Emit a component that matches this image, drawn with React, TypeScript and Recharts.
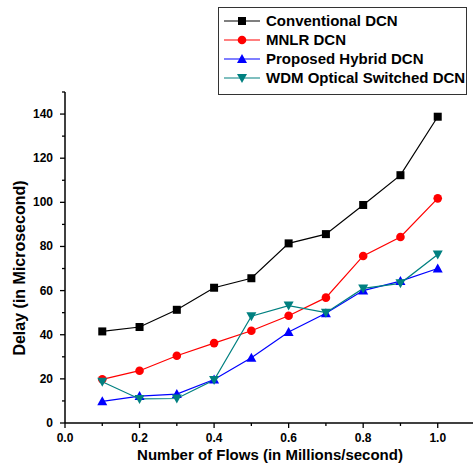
import { CartesianGrid, Legend, Line, LineChart, XAxis, YAxis } from 'recharts';

const flows = [0.1, 0.2, 0.3, 0.4, 0.5, 0.6, 0.7, 0.8, 0.9, 1.0];
const conventional = [41.5, 43.5, 51.3, 61.3, 65.6, 81.4, 85.6, 98.8, 112.3, 138.8];
const mnlr = [19.8, 23.7, 30.5, 36.2, 41.8, 48.6, 56.8, 75.7, 84.3, 101.8];
const hybrid = [9.8, 12.2, 13.1, 19.7, 29.6, 41.2, 49.7, 60.0, 64.3, 70.0];
const wdm = [18.7, 10.9, 11.1, 19.5, 48.4, 53.2, 50.0, 61.0, 63.3, 76.4];

const xTicks = [0, 0.1, 0.2, 0.3, 0.4, 0.5, 0.6, 0.7, 0.8, 0.9, 1.0];
const yTicks = [0, 10, 20, 30, 40, 50, 60, 70, 80, 90, 100, 110, 120, 130, 140, 150];

const FONT = '"Liberation Sans", Arial, sans-serif';

type Shape = 'square' | 'circle' | 'up' | 'down';

const series: { key: string; name: string; color: string; shape: Shape; values: number[] }[] = [
  { key: 'conv', name: 'Conventional DCN', color: '#000000', shape: 'square', values: conventional },
  { key: 'mnlr', name: 'MNLR DCN', color: '#ff0000', shape: 'circle', values: mnlr },
  { key: 'hyb', name: 'Proposed Hybrid DCN', color: '#0000ff', shape: 'up', values: hybrid },
  { key: 'wdm', name: 'WDM Optical Switched DCN', color: '#008080', shape: 'down', values: wdm },
];

const data = flows.map((x, i) => {
  const row: Record<string, number> = { x };
  series.forEach((s) => {
    row[s.key] = s.values[i];
  });
  return row;
});

function Marker({ cx, cy, shape, color }: { cx: number; cy: number; shape: Shape; color: string }) {
  if (shape === 'square') return <rect x={cx - 4} y={cy - 4} width={8} height={8} fill={color} />;
  if (shape === 'circle') return <circle cx={cx} cy={cy} r={4.3} fill={color} />;
  if (shape === 'up')
    return <polygon points={`${cx},${cy - 5} ${cx + 5},${cy + 4} ${cx - 5},${cy + 4}`} fill={color} />;
  return <polygon points={`${cx},${cy + 5} ${cx + 5},${cy - 4} ${cx - 5},${cy - 4}`} fill={color} />;
}

function makeDot(shape: Shape, color: string) {
  return (props: any) => {
    const { cx, cy, index } = props;
    if (cx == null || cy == null) return <g key={index} />;
    return (
      <g key={index}>
        <Marker cx={cx} cy={cy} shape={shape} color={color} />
      </g>
    );
  };
}

function XTick(props: any) {
  const { x, y, payload } = props;
  const v = Math.round(payload.value * 10);
  const major = v % 2 === 0;
  return (
    <g>
      <line x1={x} y1={y} x2={x} y2={y + (major ? 5 : 3)} stroke="#000" strokeWidth={1.3} />
      {major && (
        <text x={x} y={y + 19} textAnchor="middle" fontFamily={FONT} fontWeight="bold" fontSize={12} fill="#000">
          {(v / 10).toFixed(1)}
        </text>
      )}
    </g>
  );
}

function YTick(props: any) {
  const { x, y, payload } = props;
  const major = payload.value % 20 === 0;
  return (
    <g>
      <line x1={x} y1={y} x2={x - (major ? 5 : 3)} y2={y} stroke="#000" strokeWidth={1.3} />
      {major && (
        <text x={x - 12} y={y + 4} textAnchor="end" fontFamily={FONT} fontWeight="bold" fontSize={12} fill="#000">
          {payload.value}
        </text>
      )}
    </g>
  );
}

function LegendBox() {
  return (
    <div
      style={{
        border: '1px solid #333',
        background: '#fff',
        padding: '3px 0 7px 5px',
        width: 249,
        boxSizing: 'border-box',
        fontFamily: FONT,
        fontWeight: 'bold',
        fontSize: 15,
        color: '#000',
      }}
    >
      {series.map((s) => (
        <div key={s.key} style={{ height: 19, display: 'flex', alignItems: 'center', whiteSpace: 'nowrap' }}>
          <svg width={36} height={14} style={{ marginRight: 6, flex: 'none' }}>
            <line x1={0} y1={7} x2={36} y2={7} stroke={s.color} strokeWidth={1.2} />
            <Marker cx={18} cy={7} shape={s.shape} color={s.color} />
          </svg>
          <span>{s.name}</span>
        </div>
      ))}
    </div>
  );
}

export default function App() {
  return (
    <div style={{ position: 'absolute', left: 0, top: 0, width: 473, height: 466, background: '#fff' }}>
      <LineChart width={473} height={466} data={data} margin={{ top: 92, right: -2, bottom: 0, left: 0 }}>
        <CartesianGrid stroke="none" fill="none" vertical={false} horizontal={false} />
        <XAxis
          dataKey="x"
          type="number"
          domain={[0, 1.1]}
          ticks={xTicks}
          interval={0}
          height={43}
          tickSize={0}
          tickMargin={0}
          tickLine={false}
          tick={<XTick />}
          axisLine={{ stroke: '#000', strokeWidth: 1.5 }}
          label={{
            value: 'Number of Flows (in Millions/second)',
            position: 'insideBottom',
            offset: 6,
            style: { fontFamily: FONT, fontWeight: 'bold', fontSize: 15, fill: '#000' },
          }}
        />
        <YAxis
          type="number"
          domain={[0, 150]}
          ticks={yTicks}
          interval={0}
          width={65}
          tickSize={0}
          tickMargin={0}
          tickLine={false}
          tick={<YTick />}
          axisLine={{ stroke: '#000', strokeWidth: 1.5 }}
          label={{
            content: () => (
              <text
                x={19}
                y={268}
                transform="rotate(-90 19 268)"
                textAnchor="middle"
                dominantBaseline="central"
                fontFamily={FONT}
                fontWeight="bold"
                fontSize={16}
                fill="#000"
              >
                Delay (in Microsecond)
              </text>
            ),
          }}
        />
        <Legend
          layout="horizontal"
          verticalAlign="middle"
          align="center"
          content={() => <LegendBox />}
          wrapperStyle={{ top: 7, left: 218, width: 249, height: 'auto' }}
        />
        {series.map((s) => (
          <Line
            key={s.key}
            type="linear"
            dataKey={s.key}
            name={s.name}
            stroke={s.color}
            strokeWidth={1.2}
            dot={makeDot(s.shape, s.color)}
            activeDot={false}
            isAnimationActive={false}
          />
        ))}
      </LineChart>
    </div>
  );
}
